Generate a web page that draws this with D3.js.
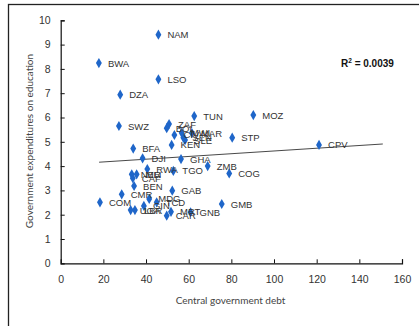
<!DOCTYPE html>
<html><head><meta charset="utf-8">
<script src="https://cdn.jsdelivr.net/npm/d3@7"></script>
<style>body{margin:0;background:#fff}svg{display:block}</style>
</head><body><svg id="c" width="419" height="326"></svg>
<script>
const codes = ["NAM","BWA","LSO","DZA","SWZ","TUN","MOZ","ZAF","BOL","CIV","MWI","SEN","SLE","MAR","KEN","STP","CPV","BFA","DJI","GHA","ZMB","COG","TGO","RWA","NER","MLI","CAF","BEN","GAB","CMR","COM","MDG","TCD","GIN","UGA","LBR","GMB","MRT","CAR","GNB"];
const debt = [45.8,17.9,45.8,27.9,27.3,62.6,90.3,50.8,49.7,53.3,56.7,57.5,58.3,61.5,52.0,80.4,121.1,34.0,38.4,56.4,68.9,79.0,52.8,40.6,33.3,35.6,33.8,34.4,52.3,28.6,18.4,41.5,45.0,39.0,32.8,34.8,75.5,51.7,49.7,60.9];
const edu  = [9.41,8.24,7.57,6.94,5.65,6.06,6.10,5.73,5.56,5.28,5.37,5.17,5.07,5.36,4.87,5.17,4.87,4.72,4.32,4.29,4.00,3.70,3.80,3.88,3.66,3.66,3.50,3.18,2.99,2.84,2.51,2.65,2.51,2.36,2.19,2.19,2.44,2.12,1.96,2.10];
const trendX = [18, 151];
const trendY = [4.16, 4.91];
const xTicks = [0,20,40,60,80,100,120,140,160];
const yTicks = [0,1,2,3,4,5,6,7,8,9,10];
const rSquared = "0.0039";

const svg = d3.select("#c");
svg.append("rect").attr("x",8.5).attr("y",4.5).attr("width",420).attr("height",330)
  .attr("fill","#fff").attr("stroke","#222").attr("stroke-width",1.3);

const x = d3.scaleLinear().domain([0,160]).range([60.7,402]);
const y = d3.scaleLinear().domain([0,10]).range([263.3,20.3]);

const xAxis = svg.append("g").attr("transform",`translate(0,${y(0)})`)
  .call(d3.axisBottom(x).tickValues(xTicks).tickSize(-4).tickPadding(12));
const yAxis = svg.append("g").attr("transform",`translate(${x(0)},0)`)
  .call(d3.axisLeft(y).tickValues(yTicks).tickSize(-4).tickPadding(10));
[xAxis,yAxis].forEach(a=>{
  a.select(".domain").attr("stroke","#111").attr("stroke-width",1.2);
  a.selectAll(".tick line").attr("stroke","#111");
  a.selectAll(".tick text").attr("fill","#333").attr("font-family","Liberation Sans, Arial, sans-serif").attr("font-size",10.5);
});
xAxis.selectAll(".tick").filter(d=>d===0).select("line").remove();
yAxis.selectAll(".tick").filter(d=>d===0).select("line").remove();

svg.append("text").attr("x",230.5).attr("y",304).attr("text-anchor","middle")
  .attr("font-family","Lato, Open Sans, sans-serif").attr("font-size",10).attr("fill","#444")
  .text("Central government debt");
svg.append("text").attr("transform","translate(33,141) rotate(-90)").attr("text-anchor","middle")
  .attr("font-family","Lato, Open Sans, sans-serif").attr("font-size",10).attr("fill","#444")
  .text("Government expenditures on education");

svg.append("line").attr("x1",x(trendX[0])).attr("y1",y(trendY[0])).attr("x2",x(trendX[1])).attr("y2",y(trendY[1]))
  .attr("stroke","#333").attr("stroke-width",0.9);

const pts = codes.map((c,i)=>({c, d:debt[i], e:edu[i]}));
const sym = d3.symbol().type(d3.symbolDiamond).size(30);
svg.append("g").selectAll("path").data(pts).join("path")
  .attr("d",sym).attr("transform",d=>`translate(${x(d.d)},${y(d.e)})`).attr("fill","#1f66c9");
svg.append("g").selectAll("text").data(pts).join("text")
  .attr("x",d=>x(d.d)+9).attr("y",d=>y(d.e)+3.5)
  .attr("font-family","Liberation Sans Narrow, Arial Narrow, sans-serif").attr("font-size",9.5).attr("fill","#333")
  .text(d=>d.c);

const rt = svg.append("text").attr("x",341).attr("y",67).attr("font-family","Liberation Sans, Arial, sans-serif")
  .attr("font-size",10).attr("font-weight","bold").attr("fill","#111");
rt.append("tspan").text("R");
rt.append("tspan").attr("dy",-4).attr("font-size",6.5).text("2");
rt.append("tspan").attr("dy",4).text(" = " + rSquared);
</script></body></html>
